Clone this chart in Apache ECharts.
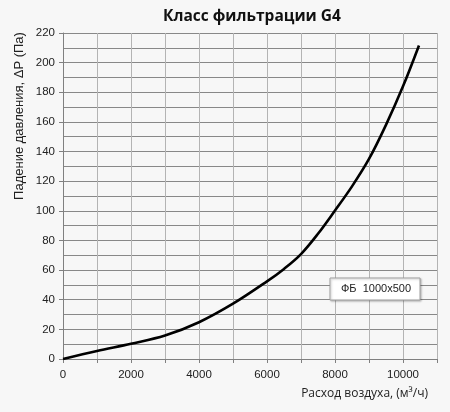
<!DOCTYPE html>
<html><head><meta charset="utf-8">
<script src="https://cdn.jsdelivr.net/npm/echarts@6/dist/echarts.min.js"></script>
<style>html,body{margin:0;padding:0;background:#f7f7f7}#c{width:450px;height:412px}</style>
</head><body><div id="c"></div>
<script>
const flowValues = [0, 1000, 2000, 3000, 4000, 5000, 6000, 6500, 7000, 7500, 8000, 8500, 9000, 9500, 10000, 10470];
const pressureValues = [0, 5.4, 10.3, 15.8, 24.8, 37.3, 52.4, 60.8, 70.8, 84.5, 100.2, 116.5, 135, 158, 184, 211.6];
const xTickLabels = [0, 2000, 4000, 6000, 8000, 10000];
const seriesName = 'ФБ  1000x500';
const titleText = 'Класс фильтрации G4';
const xName = 'Расход воздуха, (м³/ч)';
const yName = 'Падение давления, ΔP (Па)';

const chart = echarts.init(document.getElementById('c'), null, {renderer: 'canvas'});
chart.setOption({
  backgroundColor: '#f7f7f7',
  animation: false,
  title: {
    text: titleText, left: 158, top: 4,
    textStyle: {fontFamily: 'Open Sans', fontWeight: 'bold', fontSize: 15.5, color: '#111'}
  },
  legend: {
    data: [seriesName], left: 330, top: 278,
    icon: 'rect', itemWidth: 0, itemHeight: 0, itemGap: 0,
    padding: [5, 9, 6, 6],
    backgroundColor: '#ffffff', borderColor: '#a0a0a0', borderWidth: 1,
    shadowColor: 'rgba(0,0,0,0.25)', shadowBlur: 2, shadowOffsetX: 1, shadowOffsetY: 1,
    textStyle: {fontFamily: 'Liberation Sans', fontSize: 11, color: '#222'}
  },
  graphic: [{
    type: 'text', x: 19, y: 116, rotation: Math.PI / 2,
    style: {text: yName, font: '13px "Liberation Sans"', fill: '#222', align: 'center', verticalAlign: 'middle'}
  }],
  grid: {left: 63, right: 13, top: 33, bottom: 53, containLabel: false},
  xAxis: {
    type: 'value', min: 0, max: 11000, interval: 1000,
    name: xName, nameLocation: 'end',
    nameTextStyle: {fontFamily: 'Open Sans', fontSize: 12, color: '#222', align: 'right', verticalAlign: 'top', padding: [29, 0, 0, 0]},
    nameGap: -9,
    axisLine: {lineStyle: {color: '#808080', width: 1}},
    axisTick: {show: true, length: 4, lineStyle: {color: '#808080'}},
    axisLabel: {
      fontFamily: 'Liberation Sans', fontSize: 11.5, color: '#222', margin: 10,
      formatter: v => (xTickLabels.indexOf(v) >= 0 ? String(v) : '')
    },
    splitLine: {show: true, lineStyle: {color: '#b4b4b4', width: 1}}
  },
  yAxis: {
    type: 'value', min: 0, max: 220, interval: 20,
    axisLine: {show: true, lineStyle: {color: '#808080', width: 1}},
    axisTick: {show: true, length: 4, lineStyle: {color: '#808080'}},
    axisLabel: {fontFamily: 'Liberation Sans', fontSize: 11.5, color: '#222', margin: 8},
    splitLine: {show: true, lineStyle: {color: '#888888', width: 1}},
    minorTick: {show: false, splitNumber: 2},
    minorSplitLine: {show: true, lineStyle: {color: '#888888', width: 1}}
  },
  series: [{
    name: seriesName, type: 'line', smooth: 0.35, showSymbol: false,
    lineStyle: {color: '#000', width: 2.6}, itemStyle: {color: '#000'},
    data: flowValues.map((x, i) => [x, pressureValues[i]])
  }]
});
</script></body></html>
